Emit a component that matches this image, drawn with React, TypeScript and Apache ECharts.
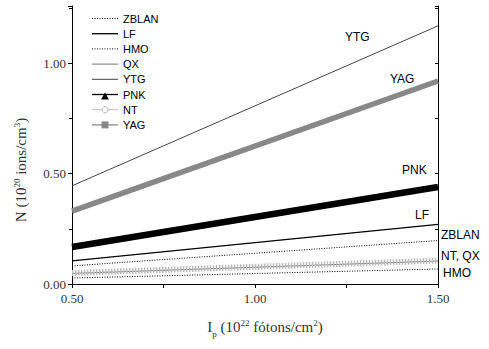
import React, { useEffect, useRef } from "react";
import * as echarts from "echarts";

const xEnds = [0.5, 1.5];
const ytg = [0.445, 1.17];
const yag = [0.33, 0.92];
const pnk = [0.168, 0.44];
const lf = [0.105, 0.27];
const zblan = [0.082, 0.197];
const nt = [0.05, 0.106];
const qx = [0.048, 0.104];
const hmo = [0.027, 0.068];

const legendNames = ["ZBLAN", "LF", "HMO", "QX", "YTG", "PNK", "NT", "YAG"];
const endLabels = [
  { text: "YTG", x: 345, y: 37 },
  { text: "YAG", x: 390, y: 79 },
  { text: "PNK", x: 402, y: 170 },
  { text: "LF", x: 415, y: 215 },
  { text: "ZBLAN", x: 441, y: 235 },
  { text: "NT, QX", x: 441, y: 256 },
  { text: "HMO", x: 443, y: 273 },
];

const serif = "Liberation Serif";
const sans = "Liberation Sans";

function pts(vals: number[]) {
  return xEnds.map((x, i) => [x, vals[i]]);
}

export default function App() {
  const ref = useRef<HTMLDivElement>(null);
  useEffect(() => {
    const chart = echarts.init(ref.current!, null, { renderer: "svg" });
    const legendStyles: any[] = [
      { stroke: "#000", lineWidth: 1, lineDash: [1, 1.5] },
      { stroke: "#000", lineWidth: 1.3 },
      { stroke: "#000", lineWidth: 1, lineDash: [1, 1.5] },
      { stroke: "#777", lineWidth: 1 },
      { stroke: "#444", lineWidth: 1 },
      { stroke: "#000", lineWidth: 1.3 },
      { stroke: "#bbb", lineWidth: 1 },
      { stroke: "#888", lineWidth: 1.3 },
    ];
    const legendGraphics: any[] = [];
    legendNames.forEach((name, i) => {
      const y = 18.5 + i * 15.2;
      legendGraphics.push({
        type: "line",
        shape: { x1: 92, y1: y, x2: 118, y2: y },
        style: legendStyles[i],
        z: 10,
      });
      legendGraphics.push({
        type: "text",
        x: 123,
        y: y,
        style: { text: name, fontFamily: sans, fontSize: 11, fill: "#000", verticalAlign: "middle" },
        z: 10,
      });
    });
    legendGraphics.push({
      type: "polygon",
      shape: { points: [[105, 96.5 - 4], [101, 96.5 + 3], [109, 96.5 + 3]] },
      style: { fill: "#000" },
      z: 11,
    });
    legendGraphics.push({
      type: "circle",
      shape: { cx: 105, cy: 18.5 + 6 * 15.2, r: 3 },
      style: { fill: "#fff", stroke: "#bbb", lineWidth: 1 },
      z: 11,
    });
    legendGraphics.push({
      type: "rect",
      shape: { x: 101.5, y: 18.5 + 7 * 15.2 - 3.5, width: 7, height: 7 },
      style: { fill: "#888" },
      z: 11,
    });
    const labelGraphics = endLabels.map((l) => ({
      type: "text",
      x: l.x,
      y: l.y,
      style: { text: l.text, fontFamily: sans, fontSize: 12, fill: "#000", verticalAlign: "middle" },
      z: 10,
    }));

    const axisCommon = {
      axisLine: { show: true, lineStyle: { color: "#000", width: 1 } },
      splitLine: { show: false },
    };

    chart.setOption({
      animation: false,
      grid: { left: 72, right: 51, top: 6, bottom: 65, containLabel: false },
      xAxis: [
        {
          type: "value",
          min: 0.5,
          max: 1.5,
          interval: 0.5,
          ...axisCommon,
          axisTick: { show: true, inside: false, length: 4, lineStyle: { color: "#000" } },
          minorTick: { show: true, splitNumber: 2, length: 4, lineStyle: { color: "#000" } },
          axisLabel: {
            formatter: (v: number) => v.toFixed(2),
            fontFamily: serif,
            fontSize: 13,
            color: "#333",
            margin: 8,
          },
        },
        {
          type: "value",
          position: "top",
          min: 0.5,
          max: 1.5,
          interval: 0.5,
          ...axisCommon,
          axisTick: { show: true, inside: true, length: 3, lineStyle: { color: "#000" } },
          minorTick: { show: true, splitNumber: 2, length: 3, lineStyle: { color: "#000" } },
          axisLabel: { show: false },
        },
      ],
      yAxis: [
        {
          type: "value",
          min: 0,
          max: 1.26,
          interval: 0.5,
          ...axisCommon,
          axisTick: { show: true, inside: false, length: 4, lineStyle: { color: "#000" } },
          minorTick: { show: true, splitNumber: 2, length: 3, lineStyle: { color: "#000" } },
          axisLabel: {
            formatter: (v: number) => (v > 1.2 ? "" : v.toFixed(2)),
            showMaxLabel: false,
            fontFamily: serif,
            fontSize: 13,
            color: "#333",
            margin: 6,
          },
        },
        {
          type: "value",
          position: "right",
          min: 0,
          max: 1.26,
          interval: 0.5,
          ...axisCommon,
          axisTick: { show: true, inside: true, length: 3, lineStyle: { color: "#000" } },
          minorTick: { show: true, splitNumber: 2, length: 3, lineStyle: { color: "#000" } },
          axisLabel: { show: false },
        },
      ],
      series: [
        { name: "YTG", type: "line", data: pts(ytg), showSymbol: false, lineStyle: { color: "#444", width: 1 } },
        { name: "YAG", type: "line", data: pts(yag), showSymbol: false, lineStyle: { color: "#888", width: 5.5 } },
        { name: "PNK", type: "line", data: pts(pnk), showSymbol: false, lineStyle: { color: "#000", width: 6.5 } },
        { name: "LF", type: "line", data: pts(lf), showSymbol: false, lineStyle: { color: "#000", width: 1.3 } },
        { name: "ZBLAN", type: "line", data: pts(zblan), showSymbol: false, lineStyle: { color: "#000", width: 1, type: [1, 1.5] } },
        { name: "QX", type: "line", data: pts(qx), showSymbol: false, lineStyle: { color: "#777", width: 1 } },
        { name: "NT", type: "line", data: pts(nt), showSymbol: false, lineStyle: { color: "#bbb", width: 6, type: [1.5, 1.5] } },
        { name: "HMO", type: "line", data: pts(hmo), showSymbol: false, lineStyle: { color: "#000", width: 1, type: [1, 1.5] } },
      ],
      graphic: [
        ...legendGraphics,
        ...labelGraphics,
        {
          type: "text",
          x: 21,
          y: 170,
          rotation: Math.PI / 2,
          style: {
            text: "{b|N (10}{s|20}{b| ions/cm}{s|3}{b|)}",
            align: "center",
            verticalAlign: "middle",
            fill: "#333",
            rich: {
              b: { fontFamily: serif, fontSize: 15, lineHeight: 18, verticalAlign: "middle", fill: "#333" },
              s: { fontFamily: serif, fontSize: 9, lineHeight: 10, verticalAlign: "middle", fill: "#333", padding: [0, 0, 9, 0] },
            },
          },
        },
        {
          type: "text",
          x: 265,
          y: 327,
          style: {
            text: "{b|I}{p|p}{b| (10}{s|22}{b| fótons/cm}{s|2}{b|)}",
            align: "center",
            verticalAlign: "middle",
            fill: "#333",
            rich: {
              b: { fontFamily: serif, fontSize: 15, lineHeight: 18, verticalAlign: "middle", fill: "#333" },
              s: { fontFamily: serif, fontSize: 9, lineHeight: 10, verticalAlign: "middle", fill: "#333", padding: [0, 0, 9, 0] },
              p: { fontFamily: serif, fontSize: 9, lineHeight: 10, verticalAlign: "middle", fill: "#333", padding: [14, 0, 0, 0] },
            },
          },
        },
      ],
    });
    return () => chart.dispose();
  }, []);
  return <div ref={ref} style={{ width: 489, height: 349, position: "absolute", left: 0, top: 0 }} />;
}
